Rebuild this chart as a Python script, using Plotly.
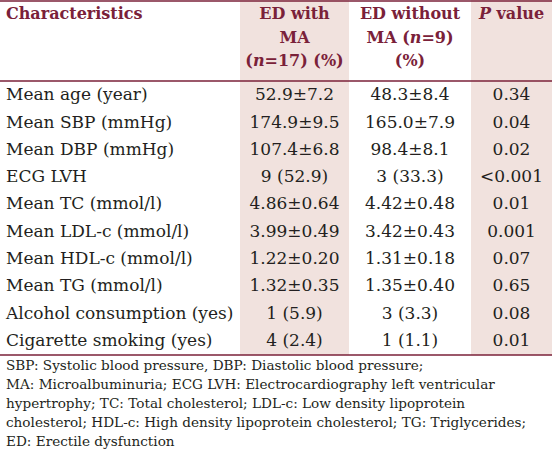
import plotly.graph_objects as go

W, H = 552, 462

characteristics = ["Mean age (year)", "Mean SBP (mmHg)", "Mean DBP (mmHg)", "ECG LVH",
                   "Mean TC (mmol/l)", "Mean LDL-c (mmol/l)", "Mean HDL-c (mmol/l)",
                   "Mean TG (mmol/l)", "Alcohol consumption (yes)", "Cigarette smoking (yes)"]
ed_with_ma = ["52.9±7.2", "174.9±9.5", "107.4±6.8", "9 (52.9)", "4.86±0.64", "3.99±0.49",
              "1.22±0.20", "1.32±0.35", "1 (5.9)", "4 (2.4)"]
ed_without_ma = ["48.3±8.4", "165.0±7.9", "98.4±8.1", "3 (33.3)", "4.42±0.48", "3.42±0.43",
                 "1.31±0.18", "1.35±0.40", "3 (3.3)", "1 (1.1)"]
p_values = ["0.34", "0.04", "0.02", "<0.001", "0.01", "0.001", "0.07", "0.65", "0.08", "0.01"]

header_col1 = ["<b>Characteristics</b>"]
header_col2 = ["<b>ED with</b>", "<b>MA</b>", "<b>(<i>n</i>=17) (%)</b>"]
header_col3 = ["<b>ED without</b>", "<b>MA (<i>n</i>=9)</b>", "<b>(%)</b>"]
header_col4 = ["<b><i>P</i> value</b>"]

footnotes = ["SBP: Systolic blood pressure, DBP: Diastolic blood pressure;",
             "MA: Microalbuminuria; ECG LVH: Electrocardiography left ventricular",
             "hypertrophy; TC: Total cholesterol; LDL-c: Low density lipoprotein",
             "cholesterol; HDL-c: High density lipoprotein cholesterol; TG: Triglycerides;",
             "ED: Erectile dysfunction"]

SHADE = "#f1e2de"
MAROON = "#7a2139"
TEXT = "#231f20"
FONT = "DejaVu Serif"

# layout geometry (pixels)
col_edges = [0, 240, 349, 471, 552]
header_bottom = 81
row_h = 27.3
first_row_y = 96
header_line_y0, header_line_dy = 15, 23.5
table_bottom = header_bottom + row_h * len(characteristics) + 1
foot_y0, foot_dy = 367, 19
left_pad = 6

fig = go.Figure()

centers = [(col_edges[i] + col_edges[i + 1]) / 2 for i in range(4)]
row_y = [first_row_y + i * row_h for i in range(len(characteristics))]

# header
for ci, lines in enumerate([header_col1, header_col2, header_col3, header_col4]):
    x = left_pad if ci == 0 else centers[ci]
    fig.add_trace(go.Scatter(
        x=[x] * len(lines), y=[header_line_y0 + k * header_line_dy for k in range(len(lines))],
        mode="text", text=lines,
        textposition="middle right" if ci == 0 else "middle center",
        textfont=dict(family=FONT, size=16, color=MAROON),
        hoverinfo="skip", showlegend=False))

# body
for ci, vals in enumerate([characteristics, ed_with_ma, ed_without_ma, p_values]):
    x = left_pad if ci == 0 else centers[ci]
    fig.add_trace(go.Scatter(
        x=[x] * len(vals), y=row_y, mode="text", text=vals,
        textposition="middle right" if ci == 0 else "middle center",
        textfont=dict(family=FONT, size=17, color=TEXT),
        hoverinfo="skip", showlegend=False))

# footnotes
fig.add_trace(go.Scatter(
    x=[left_pad] * len(footnotes), y=[foot_y0 + i * foot_dy for i in range(len(footnotes))],
    mode="text", text=footnotes, textposition="middle right",
    textfont=dict(family=FONT, size=13.6, color=TEXT),
    hoverinfo="skip", showlegend=False))

shapes = []
for ci in (1, 3):
    shapes.append(dict(type="rect", xref="x", yref="y", x0=col_edges[ci], x1=col_edges[ci + 1],
                       y0=0, y1=table_bottom, fillcolor=SHADE, line=dict(width=0), layer="below"))
for ypx in [1, header_bottom, table_bottom]:
    shapes.append(dict(type="line", xref="x", yref="y", x0=0, x1=W, y0=ypx, y1=ypx,
                       line=dict(color=MAROON, width=1.5)))

fig.update_layout(width=W, height=H, margin=dict(l=0, r=0, t=0, b=0),
                  paper_bgcolor="white", plot_bgcolor="white", shapes=shapes,
                  xaxis=dict(range=[0, W], visible=False, fixedrange=True),
                  yaxis=dict(range=[H, 0], visible=False, fixedrange=True))

fig.write_html("out.html", config={"displayModeBar": False},
               post_script="document.body.style.margin='0';document.body.style.overflow='hidden';")
